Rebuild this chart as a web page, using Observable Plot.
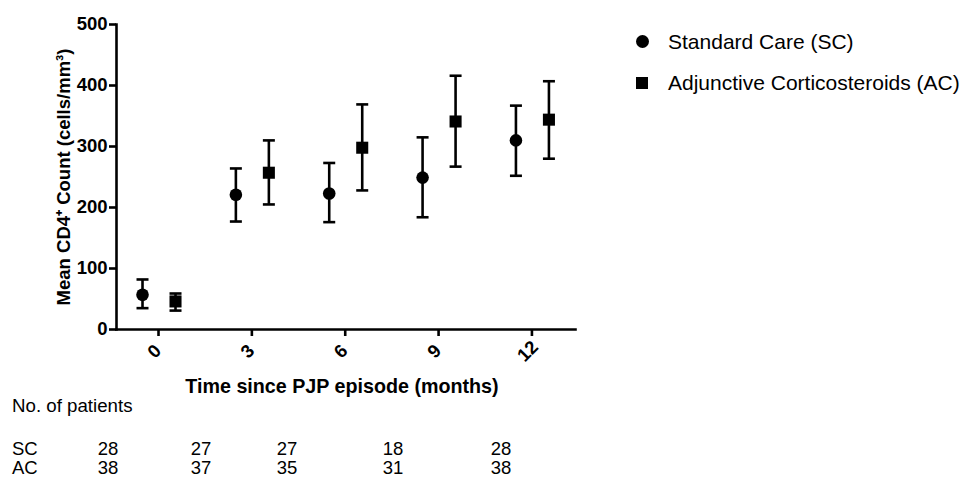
<!DOCTYPE html>
<html>
<head>
<meta charset="utf-8">
<script src="https://cdn.jsdelivr.net/npm/d3@7"></script>
<script src="https://cdn.jsdelivr.net/npm/@observablehq/plot@0.6"></script>
<style>
  html, body { margin: 0; padding: 0; background: #fff; }
  #wrap { position: relative; width: 972px; height: 477px; overflow: hidden; font-family: "Liberation Sans", Arial, sans-serif; color: #000; }
  #chart { position: absolute; left: 0; top: 0; }
  .legend { position: absolute; left: 632px; top: 21px; font-size: 21px; }
  .legend .row { display: flex; align-items: center; height: 41px; }
  .legend .sym { width: 36px; display: flex; justify-content: center; }
  .legend .circ { width: 13px; height: 13px; border-radius: 50%; background: #000; margin-left: -16px; }
  .legend .sq { width: 12px; height: 12px; background: #000; margin-left: -16px; }
  .label-n { position: absolute; left: 12px; top: 395px; font-size: 18.7px; line-height: 22px; }
  .tbl { position: absolute; left: 12px; top: 440px; font-size: 18.5px; line-height: 18px; }
  .tbl .r { position: relative; height: 19px; }
  .tbl span { position: absolute; top: 0; transform: translateX(-50%); white-space: nowrap; }
  .tbl span.g { transform: none; }
</style>
</head>
<body>
<div id="wrap">
  <div id="chart"></div>
  <div class="legend" id="legend"></div>
  <div class="label-n">No. of patients</div>
  <div class="tbl" id="tbl"></div>
</div>
<script>
// ---- data ----
const months = [0, 3, 6, 9, 12];
const scMean = [57, 221, 223, 249, 310];
const scLow  = [35, 177, 176, 184, 252];
const scHigh = [82, 264, 273, 315, 367];
const acMean = [46, 257, 298, 341, 344];
const acLow  = [31, 205, 228, 267, 280];
const acHigh = [59, 310, 369, 416, 407];
const scN = [28, 27, 27, 18, 28];
const acN = [38, 37, 35, 31, 38];
const groupNames = ["Standard Care (SC)", "Adjunctive Corticosteroids (AC)"];
const groupCodes = ["SC", "AC"];
const yTicks = [0, 100, 200, 300, 400, 500];

// ---- build tables ----
const sc = months.map((m, i) => ({month: m, mean: scMean[i], lo: scLow[i], hi: scHigh[i]}));
const ac = months.map((m, i) => ({month: m, mean: acMean[i], lo: acLow[i], hi: acHigh[i]}));

const capSymbol = {
  draw(ctx, size) {
    const w = Math.sqrt(size / Math.PI);
    ctx.moveTo(-w, 0);
    ctx.lineTo(w, 0);
  }
};

const SW = 2.6;
const plot = Plot.plot({
  width: 972,
  height: 477,
  marginLeft: 116,
  marginRight: 397,
  marginTop: 24,
  marginBottom: 148,
  style: {fontFamily: "'Liberation Sans', Arial, sans-serif", fontSize: "18px", fontWeight: "bold", color: "#000", background: "#fff"},
  x: {domain: [-1.35, 13.4]},
  y: {domain: [0, 500]},
  marks: [
    Plot.frame({anchor: "left", strokeWidth: SW}),
    Plot.frame({anchor: "bottom", strokeWidth: SW}),
    Plot.axisY({ticks: yTicks, tickSize: 7, tickPadding: 2, strokeWidth: SW, fontSize: 18.5,
      label: "Mean CD4⁺ Count (cells/mm³)", labelAnchor: "center", labelOffset: 60, labelArrow: "none"}),
    Plot.axisX({ticks: months, tickSize: 7, strokeWidth: SW, tickFormat: () => "", label: null}),
    Plot.text(months, {x: d => d, text: d => String(d), frameAnchor: "bottom", dy: 26, rotate: -45, fontSize: 18.5, fontWeight: "bold"}),
    Plot.text(["Time since PJP episode (months)"], {frameAnchor: "bottom", dy: 63, dx: -4, fontSize: 19.7, fontWeight: "bold"}),
    // SC
    Plot.ruleX(sc, {x: "month", y1: "lo", y2: "hi", dx: -16, strokeWidth: SW, stroke: "black"}),
    Plot.dot(sc, {x: "month", y: "lo", dx: -16, symbol: capSymbol, r: 6, stroke: "black", fill: "none", strokeWidth: SW}),
    Plot.dot(sc, {x: "month", y: "hi", dx: -16, symbol: capSymbol, r: 6, stroke: "black", fill: "none", strokeWidth: SW}),
    Plot.dot(sc, {x: "month", y: "mean", dx: -16, symbol: "circle", r: 6.3, fill: "black", stroke: "none"}),
    // AC
    Plot.ruleX(ac, {x: "month", y1: "lo", y2: "hi", dx: 17, strokeWidth: SW, stroke: "black"}),
    Plot.dot(ac, {x: "month", y: "lo", dx: 17, symbol: capSymbol, r: 6, stroke: "black", fill: "none", strokeWidth: SW}),
    Plot.dot(ac, {x: "month", y: "hi", dx: 17, symbol: capSymbol, r: 6, stroke: "black", fill: "none", strokeWidth: SW}),
    Plot.dot(ac, {x: "month", y: "mean", dx: 17, symbol: "square", r: 6.8, fill: "black", stroke: "none"})
  ]
});
document.getElementById("chart").appendChild(plot);

// ---- legend ----
const leg = document.getElementById("legend");
groupNames.forEach((name, i) => {
  const row = document.createElement("div");
  row.className = "row";
  const s = document.createElement("div");
  s.className = "sym";
  const m = document.createElement("div");
  m.className = i === 0 ? "circ" : "sq";
  s.appendChild(m);
  const t = document.createElement("span");
  t.textContent = name;
  row.appendChild(s);
  row.appendChild(t);
  leg.appendChild(row);
});

// ---- patient table ----
const colCenters = [96, 189, 275, 381, 489];
const tbl = document.getElementById("tbl");
[scN, acN].forEach((vals, gi) => {
  const r = document.createElement("div");
  r.className = "r";
  const g = document.createElement("span");
  g.className = "g";
  g.style.left = "0px";
  g.textContent = groupCodes[gi];
  r.appendChild(g);
  vals.forEach((v, j) => {
    const c = document.createElement("span");
    c.style.left = colCenters[j] + "px";
    c.textContent = v;
    r.appendChild(c);
  });
  tbl.appendChild(r);
});
</script>
</body>
</html>
